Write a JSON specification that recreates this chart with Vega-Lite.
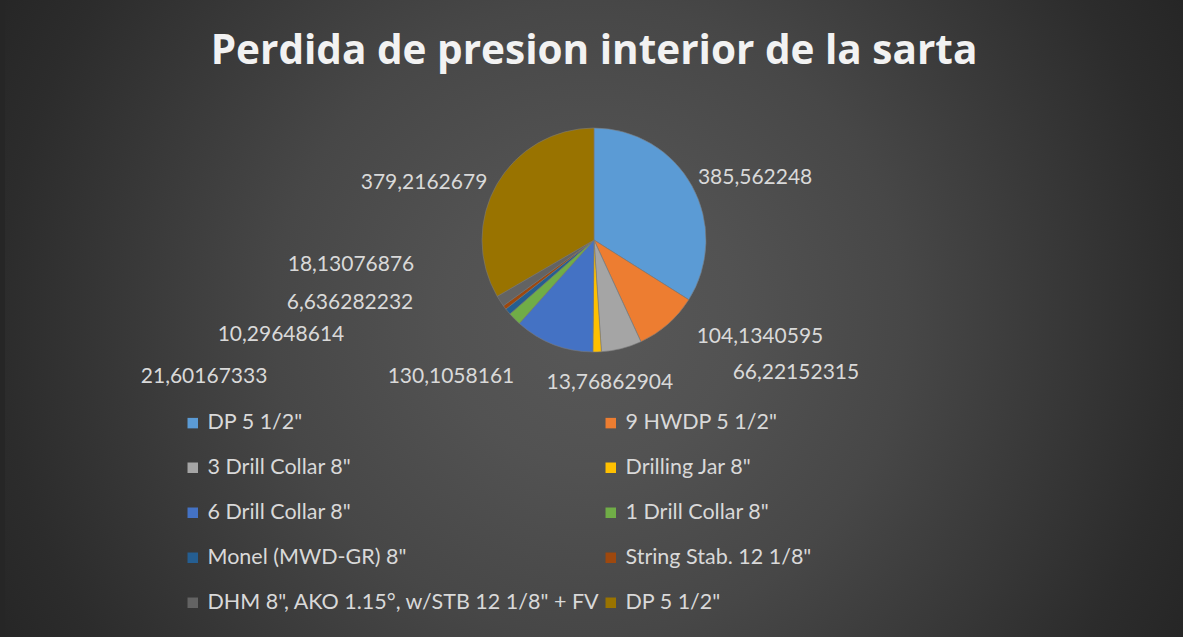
{
  "$schema": "https://vega.github.io/schema/vega-lite/v6.json",
  "width": 1178,
  "height": 794,
  "autosize": {"type": "none"},
  "padding": {"left": 5, "top": -157, "right": 0, "bottom": 0},
  "background": "#262626",
  "view": {
    "stroke": null,
    "fill": {
      "gradient": "radial",
      "x1": 0.497, "y1": 0.566, "r1": 0,
      "x2": 0.497, "y2": 0.566, "r2": 0.57,
      "stops": [
        {"offset": 0, "color": "#585858"},
        {"offset": 0.22, "color": "#525252"},
        {"offset": 0.47, "color": "#474747"},
        {"offset": 0.876, "color": "#2c2c2c"},
        {"offset": 1, "color": "#262626"}
      ]
    }
  },
  "title": {
    "text": "Perdida de presion interior de la sarta",
    "orient": "top",
    "anchor": "middle",
    "offset": -229,
    "font": "Open Sans",
    "fontSize": 40.5,
    "fontWeight": "bold",
    "color": "#f2f2f2"
  },
  "data": {
    "values": [
      {"orden": 1, "serie": "DP 5 1/2\"", "valor": 385.562248},
      {"orden": 2, "serie": "9 HWDP 5 1/2\"", "valor": 104.1340595},
      {"orden": 3, "serie": "3 Drill Collar 8\"", "valor": 66.22152315},
      {"orden": 4, "serie": "Drilling Jar 8\"", "valor": 13.76862904},
      {"orden": 5, "serie": "6 Drill Collar 8\"", "valor": 130.1058161},
      {"orden": 6, "serie": "1 Drill Collar 8\"", "valor": 21.60167333},
      {"orden": 7, "serie": "Monel (MWD-GR) 8\"", "valor": 10.29648614},
      {"orden": 8, "serie": "String Stab. 12 1/8\"", "valor": 6.636282232},
      {"orden": 9, "serie": "DHM 8\", AKO 1.15°, w/STB 12 1/8\" + FV", "valor": 18.13076876},
      {"orden": 10, "serie": "DP 5 1/2\" ", "valor": 379.2162679}
    ]
  },
  "encoding": {
    "theta": {"field": "valor", "type": "quantitative", "stack": true},
    "order": {"field": "orden", "type": "quantitative", "sort": "ascending"}
  },
  "layer": [
    {
      "mark": {"type": "arc", "radius": 112, "stroke": "#7a7a7a", "strokeWidth": 0.6},
      "encoding": {
        "color": {
          "field": "serie",
          "type": "nominal",
          "scale": {
            "domain": ["DP 5 1/2\"", "9 HWDP 5 1/2\"", "3 Drill Collar 8\"", "Drilling Jar 8\"", "6 Drill Collar 8\"", "1 Drill Collar 8\"", "Monel (MWD-GR) 8\"", "String Stab. 12 1/8\"", "DHM 8\", AKO 1.15°, w/STB 12 1/8\" + FV", "DP 5 1/2\" "],
            "range": ["#5B9BD5", "#ED7D31", "#A5A5A5", "#FFC000", "#4472C4", "#70AD47", "#255E91", "#9E480E", "#636363", "#997300"]
          },
          "legend": {
            "orient": "none",
            "legendX": 177,
            "legendY": 569,
            "direction": "horizontal",
            "columns": 2,
            "title": null,
            "symbolType": "square",
            "symbolSize": 110,
            "symbolStrokeWidth": 0,
            "labelFont": "Lato",
            "labelFontSize": 21.5,
            "labelColor": "#d9d9d9",
            "labelLimit": 0,
            "labelOffset": 4,
            "rowPadding": 22,
            "columnPadding": -11,
            "padding": 0
          }
        }
      }
    },
    {
      "mark": {
        "type": "text",
        "radius": 140,
        "font": "Lato",
        "fontSize": 21,
        "fill": "#d9d9d9",
        "align": "center",
        "baseline": "middle",
        "dx": {"expr": "[38.5, 73.6, 167.4, 12, -92.4, -290.5, -205.3, -132.2, -125.7, -48.6][datum.orden - 1]"},
        "dy": {"expr": "[5.6, -8.2, -2.7, 3, 6.5, 38.6, 5.5, -21.3, -51.4, 12.8][datum.orden - 1]"}
      },
      "encoding": {
        "text": {"field": "valor", "type": "quantitative", "format": ".10~g"}
      }
    }
  ],
  "config": {
    "locale": {
      "number": {"decimal": ",", "thousands": ".", "grouping": [3], "currency": ["", ""]}
    }
  }
}
